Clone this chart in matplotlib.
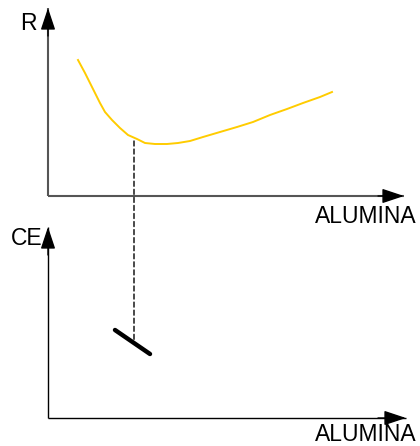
import matplotlib
matplotlib.use('Agg')
import matplotlib.pyplot as plt
from matplotlib.patches import ConnectionPatch

plt.rcParams['font.family'] = ['Liberation Sans', 'DejaVu Sans']

# R versus alumina (sketch units, origin at the axes corner)
r_alumina = [30, 37, 42, 47, 52, 57, 64, 72, 80, 89, 97, 107, 119, 130,
             142, 155, 172, 189, 205, 222, 239, 255, 272, 284]
r_values = [136, 123, 113, 103, 93, 84, 76, 68, 61, 57, 53, 52, 52, 53,
            55, 59, 64, 69, 74, 81, 87, 93, 99, 104]

# CE marker segment
ce_alumina = [67, 102]
ce_values = [88, 64]

# dashed guide from the R curve down to the CE mark
guide_x = 86
guide_top = 55
guide_bottom = 78

x_label = "ALUMINA"

fig = plt.figure(figsize=(4.2, 4.46), dpi=100)
W, H = 420, 446

ax1 = fig.add_axes([48 / W, (H - 196) / H, 356 / W, 188 / H])
ax2 = fig.add_axes([48 / W, (H - 418) / H, 358 / W, 191 / H])
ax1.set_xlim(0, 356)
ax1.set_ylim(0, 188)
ax2.set_xlim(0, 358)
ax2.set_ylim(0, 191)

for ax in (ax1, ax2):
    ax.axis('off')


def axis_arrow(ax, tip, back, color, lw):
    # shaft
    ax.plot([0, tip[0]], [0, tip[1]], color=color, lw=lw, clip_on=False,
            solid_capstyle='butt')
    # black arrow head
    ax.annotate('', xy=tip, xytext=back, xycoords='data',
                arrowprops=dict(arrowstyle='-|>,head_length=13.5,head_width=4.5',
                                mutation_scale=1, color='black', lw=1,
                                shrinkA=0, shrinkB=0),
                annotation_clip=False)


axis_arrow(ax1, (356, 0), (330, 0), '#555555', 1.5)
axis_arrow(ax1, (0, 188), (0, 160), '#555555', 1.5)
axis_arrow(ax2, (358, 0), (330, 0), 'black', 1.0)
axis_arrow(ax2, (0, 191), (0, 163), 'black', 1.0)

ax1.plot(r_alumina, r_values, color='#ffcc00', lw=1.4, clip_on=False)
ax2.plot(ce_alumina, ce_values, color='black', lw=3.2,
         solid_capstyle='round', clip_on=False)

con = ConnectionPatch(xyA=(guide_x, guide_top), coordsA=ax1.transData,
                      xyB=(guide_x, guide_bottom), coordsB=ax2.transData,
                      color='black', lw=1.0, linestyle=(0, (3.6, 2.2)))
fig.add_artist(con)

ax1.text(-11, 166, "R", fontsize=16.5, ha='right', va='baseline')
ax1.text(369, -27, x_label, fontsize=16.5, ha='right', va='baseline')
ax2.text(-5, 173, "CE", fontsize=16.5, ha='right', va='baseline')
ax2.text(369, -23, x_label, fontsize=16.5, ha='right', va='baseline')

fig.savefig('out.png', dpi=100)
